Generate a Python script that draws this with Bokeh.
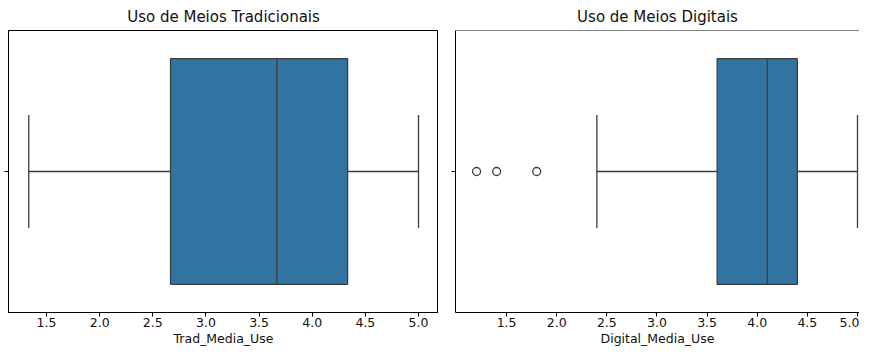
from bokeh.plotting import figure
from bokeh.models import ColumnDataSource, FixedTicker, Range1d, Span
from bokeh.layouts import row
from bokeh.embed import file_html
from bokeh.resources import INLINE

# ---- data ----
titles = ["Uso de Meios Tradicionais", "Uso de Meios Digitais"]
xlabels = ["Trad_Media_Use", "Digital_Media_Use"]
whisker_low = [1.333, 2.4]
q1 = [2.667, 3.6]
median = [3.667, 4.1]
q3 = [4.333, 4.4]
whisker_high = [5.0, 5.0]
outliers = [[], [1.2, 1.4, 1.8]]
x_ticks = [1.5, 2.0, 2.5, 3.0, 3.5, 4.0, 4.5, 5.0]

FILL = "#3274a1"
LINE = "#3d3d3d"
FONT = "DejaVu Sans"
TEXT = "#111111"
BOX_HALF = 0.4
CAP_HALF = 0.2

def make_panel(i, width, border_left, xr, right_spine=True):
    p = figure(width=width, height=348, output_backend="svg", toolbar_location=None,
               x_range=Range1d(*xr), y_range=Range1d(-0.5, 0.5),
               title=titles[i], min_border_left=border_left, min_border_right=0,
               min_border_top=8, min_border_bottom=0)
    p.title.align = "center"
    p.title.text_font = FONT
    p.title.text_font_size = "15px"
    p.title.text_font_style = "normal"
    p.title.text_color = TEXT
    p.xgrid.visible = False
    p.ygrid.visible = False
    p.background_fill_color = "white"
    p.border_fill_color = "white"
    if right_spine:
        p.outline_line_color = "black"
        p.outline_line_width = 1
        p.outline_line_alpha = 1
    else:
        p.outline_line_color = None
        p.add_layout(Span(location=0.5, dimension="width", line_color="black", line_width=1))

    # x axis
    xa = p.xaxis[0]
    xa.ticker = FixedTicker(ticks=x_ticks)
    xa.major_label_overrides = {t: f"{t:.1f}" for t in x_ticks}
    xa.axis_label = xlabels[i]
    xa.axis_label_text_font = FONT
    xa.axis_label_text_font_size = "12.5px"
    xa.axis_label_text_font_style = "normal"
    xa.axis_label_text_color = TEXT
    xa.axis_label_standoff = 1
    xa.major_label_text_font = FONT
    xa.major_label_text_font_size = "12.5px"
    xa.major_label_text_color = TEXT
    xa.major_label_standoff = 1
    xa.major_tick_in = 0
    xa.major_tick_out = 4
    xa.minor_tick_out = 0
    xa.minor_tick_in = 0
    xa.axis_line_color = "black"
    xa.major_tick_line_color = "black"

    # y axis: single unlabeled tick
    ya = p.yaxis[0]
    ya.ticker = FixedTicker(ticks=[0])
    ya.major_label_overrides = {0: ""}
    ya.major_label_text_font_size = "0px"
    ya.major_label_standoff = 0
    ya.major_tick_in = 0
    ya.major_tick_out = 4
    ya.minor_tick_out = 0
    ya.minor_tick_in = 0
    ya.axis_line_color = "black"
    ya.major_tick_line_color = "black"

    src = ColumnDataSource(dict(lo=[whisker_low[i]], q1=[q1[i]], med=[median[i]],
                                q3=[q3[i]], hi=[whisker_high[i]], y=[0]))
    # whiskers
    p.segment(x0="lo", y0="y", x1="q1", y1="y", source=src, line_color=LINE, line_width=1.3)
    p.segment(x0="q3", y0="y", x1="hi", y1="y", source=src, line_color=LINE, line_width=1.3)
    # caps
    p.segment(x0="lo", y0=-CAP_HALF, x1="lo", y1=CAP_HALF, source=src, line_color=LINE, line_width=1.3)
    p.segment(x0="hi", y0=-CAP_HALF, x1="hi", y1=CAP_HALF, source=src, line_color=LINE, line_width=1.3)
    # box
    p.quad(left="q1", right="q3", bottom=-BOX_HALF, top=BOX_HALF, source=src,
           fill_color=FILL, line_color=LINE, line_width=1.3)
    # median
    p.segment(x0="med", y0=-BOX_HALF, x1="med", y1=BOX_HALF, source=src, line_color=LINE, line_width=1.3)
    # outliers
    if outliers[i]:
        osrc = ColumnDataSource(dict(x=outliers[i], y=[0] * len(outliers[i])))
        p.scatter(x="x", y="y", source=osrc, marker="circle", size=8,
                  fill_color=None, line_color=LINE, line_width=1.3)
    return p

p1 = make_panel(0, 438, 8, (1.1425, 5.188))
p2 = make_panel(1, 421, 17, (0.99, 5.02), right_spine=False)

layout = row(p1, p2)
open("out.html", "w").write(file_html(layout, INLINE))
